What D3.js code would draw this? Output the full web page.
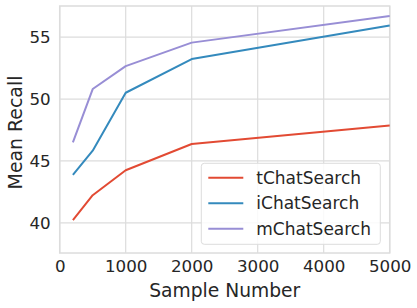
<!DOCTYPE html>
<html>
<head>
<meta charset="utf-8">
<script src="https://cdn.jsdelivr.net/npm/d3@7"></script>
<style>
  body { margin: 0; background: #fff; }
  text { font-family: "DejaVu Sans", sans-serif; fill: #262626; }
</style>
</head>
<body>
<div id="chart"></div>
<script>
// data
const sampleNumbers = [200, 500, 1000, 2000, 5000];
const tChatSearch = [40.22, 42.23, 44.25, 46.37, 47.87];
const iChatSearch = [43.87, 45.83, 50.51, 53.23, 55.94];
const mChatSearch = [46.5, 50.81, 52.66, 54.56, 56.72];
const seriesNames = ["tChatSearch", "iChatSearch", "mChatSearch"];
const seriesColors = ["#E24A33", "#348ABD", "#988ED5"];
const xTicks = [0, 1000, 2000, 3000, 4000, 5000];
const yTicks = [40, 45, 50, 55];

const W = 417, H = 308;
const margin = {top: 6, right: 27.3, bottom: 55, left: 59.7};
const width = W - margin.left - margin.right;
const height = H - margin.top - margin.bottom;

const svg = d3.select("#chart")
    .append("svg")
    .attr("width", W)
    .attr("height", H)
    .append("g")
    .attr("transform", `translate(${margin.left},${margin.top})`);

const x = d3.scaleLinear().domain([0, 5000]).range([0, width]);
const y = d3.scaleLinear().domain([37.56, 57.52]).range([height, 0]);

// grid
svg.append("g").selectAll("line")
    .data(xTicks)
    .join("line")
    .attr("x1", d => x(d)).attr("x2", d => x(d))
    .attr("y1", 0).attr("y2", height)
    .attr("stroke", "#dcdcdc").attr("stroke-width", 1.2);

svg.append("g").selectAll("line")
    .data(yTicks)
    .join("line")
    .attr("x1", 0).attr("x2", width)
    .attr("y1", d => y(d)).attr("y2", d => y(d))
    .attr("stroke", "#dcdcdc").attr("stroke-width", 1.2);

// axes (no tick marks, just labels)
const xAxis = svg.append("g")
    .attr("transform", `translate(0,${height})`)
    .call(d3.axisBottom(x).tickValues(xTicks).tickSize(0).tickPadding(7).tickFormat(d3.format("d")));
const yAxis = svg.append("g")
    .call(d3.axisLeft(y).tickValues(yTicks).tickSize(0).tickPadding(9));
[xAxis, yAxis].forEach(a => {
    a.select(".domain").remove();
    a.selectAll("text").style("font-size", "16.7px").attr("fill", "#262626")
        .style("font-family", "DejaVu Sans, sans-serif");
});

// frame
svg.append("rect")
    .attr("width", width).attr("height", height)
    .attr("fill", "none")
    .attr("stroke", "#dcdcdc").attr("stroke-width", 1.5);

const allSeries = [tChatSearch, iChatSearch, mChatSearch];
const line = d3.line()
    .x((d, i) => x(sampleNumbers[i]))
    .y(d => y(d));

svg.selectAll(".line")
    .data(allSeries)
    .join("path")
    .attr("class", "line")
    .attr("fill", "none")
    .attr("stroke", (d, i) => seriesColors[i])
    .attr("stroke-width", 2)
    .attr("stroke-linejoin", "round")
    .attr("d", line);

// axis titles
svg.append("text")
    .attr("x", width / 2)
    .attr("y", height + 44)
    .attr("text-anchor", "middle")
    .style("font-size", "18.7px")
    .text("Sample Number");

svg.append("text")
    .attr("transform", `translate(${-38},${height / 2 + 3}) rotate(-90)`)
    .attr("text-anchor", "middle")
    .style("font-size", "18.9px")
    .text("Mean Recall");

// legend
const legend = svg.append("g")
    .attr("transform", `translate(${201.3 - margin.left},${163.3 - margin.top})`);

legend.append("rect")
    .attr("width", 179).attr("height", 81)
    .attr("rx", 3)
    .attr("fill", "#fff").attr("fill-opacity", 0.85)
    .attr("stroke", "#dcdcdc").attr("stroke-width", 1);

const items = legend.selectAll(".legend")
    .data(seriesNames)
    .join("g")
    .attr("class", "legend")
    .attr("transform", (d, i) => `translate(0,${14.4 + i * 25.5})`);

items.append("line")
    .attr("x1", 7).attr("x2", 42)
    .attr("stroke", (d, i) => seriesColors[i])
    .attr("stroke-width", 2);

items.append("text")
    .attr("x", 55)
    .attr("dy", "0.35em")
    .style("font-size", "17px")
    .text(d => d);
</script>
</body>
</html>
